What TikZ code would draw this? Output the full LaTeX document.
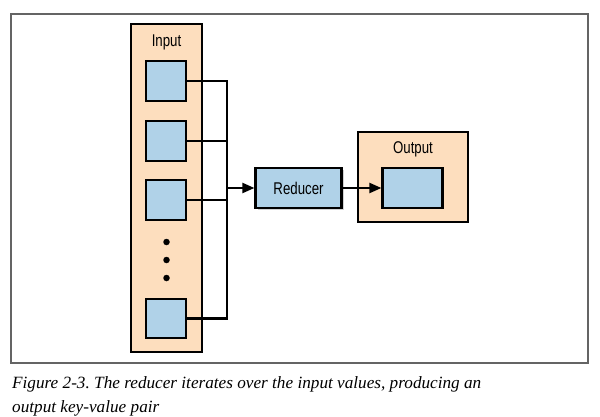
\documentclass[tikz,border=0pt]{standalone}
\usepackage{fontspec}
\setmainfont{Liberation Serif}
\newfontfamily\condsans[FakeStretch=0.78]{Liberation Sans}
\usetikzlibrary{arrows.meta,shadows}
\definecolor{peach}{RGB}{253,222,190}
\definecolor{lblue}{RGB}{176,210,232}
\definecolor{framegray}{RGB}{100,100,100}
\frenchspacing
\begin{document}
\begin{tikzpicture}[x=1pt,y=-1pt,
  container/.style={draw=black,line width=2.2pt,fill=peach},
  item/.style={draw=black,line width=2.2pt,fill=lblue},
  conn/.style={draw=black,line width=2.2pt},
  arr/.style={conn,-{Triangle[length=12pt,width=10pt]}},
  lbl/.style={font=\condsans\fontsize{17}{17}\selectfont,inner sep=0pt},
  dot/.style={circle,fill=black,inner sep=0pt,minimum size=6.5pt},
  captext/.style={font=\itshape\fontsize{17.2}{17.2}\selectfont,inner sep=0pt,anchor=base west}]
\useasboundingbox (0,0) rectangle (600,417);
\fill[white] (0,0) rectangle (600,417);
\draw[framegray,line width=1.4pt] (11,14) rectangle (588,363);
% Input container
\draw[container] (131,24) rectangle (202,352);
\node[lbl] (inlbl) at (166.5,42) {Input};
\draw[item] (146,61) rectangle (186,101);
\draw[item] (146,121) rectangle (186,161);
\draw[item] (146,180) rectangle (186,220);
\draw[item] (146,299) rectangle (186,338);
\node[dot] (d1) at (166.5,242) {};
\node[dot] (d2) at (166.5,260) {};
\node[dot] (d3) at (166.5,278) {};
\coordinate (i1) at (186,81);
\coordinate (i2) at (186,141);
\coordinate (i3) at (186,200);
\coordinate (i4) at (186,318.5);
\coordinate (bustop) at (227,81);
\coordinate (busbot) at (227,318.5);
\coordinate (busmid) at (227,188);
\draw[conn] (i1) -- (bustop) -- (busbot) -- (i4);
\draw[conn] (i2) -- (227,141);
\draw[conn] (i3) -- (227,200);
% Reducer
\node[item,drop shadow={shadow xshift=2pt,shadow yshift=-2pt,opacity=0.35},minimum width=86pt,minimum height=40pt,inner sep=0pt,lbl] (red) at (298.5,188) {Reducer};
\draw[arr] (busmid) -- (red.west);
% Output
\draw[container] (358,132) rectangle (468,222);
\node[lbl] (outlbl) at (413,149) {Output};
\node[item,minimum width=60pt,minimum height=40pt,inner sep=0pt] (outbox) at (412.5,188) {};
\draw[arr] (red.east) -- (outbox.west);
% Caption
\node[captext] (c1) at (12,388) {Figure 2-3. The reducer iterates over the input values, producing an};
\node[captext] (c2) at (12,412.5) {output key-value pair};
\end{tikzpicture}
\end{document}
